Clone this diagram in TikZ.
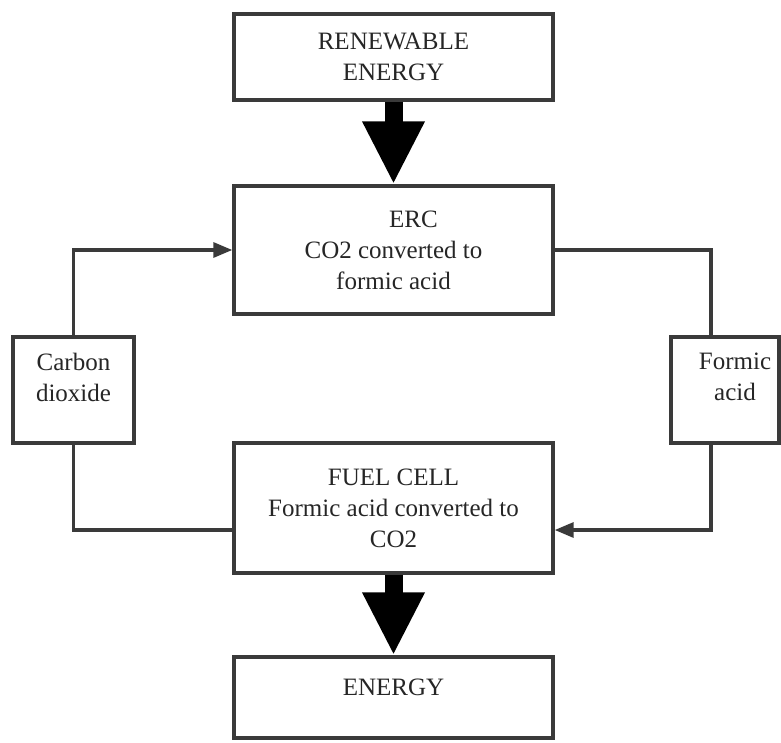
\documentclass[tikz,border=0pt]{standalone}
\usepackage{fontspec}
\setmainfont{Liberation Serif}
\usetikzlibrary{arrows.meta,calc}
\definecolor{ln}{HTML}{3A3A3A}
\definecolor{tx}{HTML}{262626}
\begin{document}
\begin{tikzpicture}[x=1pt,y=-1pt,
  box/.style={draw=ln,line width=3.4pt,fill=white,inner sep=0pt,align=center,
    text=tx,font=\fontsize{25}{31}\selectfont},
  wide/.style={box,minimum width=319pt},
  flow/.style={draw=ln,line width=3.2pt,-{Triangle[length=19pt,width=15pt]}},
  plain/.style={draw=ln,line width=3.2pt},
  big/.style={draw=black,line width=18pt,-{Triangle[length=63pt,width=58pt]}}]
\useasboundingbox (0,0) rectangle (781,743);
\node[wide,minimum height=86pt] (ren) at (393.5,57) {RENEWABLE\\ENERGY};
\node[wide,minimum height=128pt] (erc) at (393.5,250)
  {\hspace{1.6em}ERC\\CO2 converted to\\formic acid\hspace{1.2em}};
\node[box,minimum width=121pt,minimum height=106pt,text depth=26pt] (co2) at (73.5,390)
  {Carbon\\dioxide};
\node[box,minimum width=108pt,minimum height=106pt,text depth=26pt] (fa) at (725,390)
  {\hspace{0.8em}Formic\\\hspace{0.8em}acid};
\node[wide,minimum height=130pt] (fc) at (393.5,508)
  {FUEL CELL\\Formic acid converted to\\CO2};
\node[wide,minimum height=81pt,text depth=20pt] (en) at (393.5,697.5) {ENERGY};
\coordinate (co2turn) at ($(co2.south)+(0,140)$);
\coordinate (faTop) at ($(fa.north)+(-14,0)$);
\coordinate (faBot) at ($(fa.south)+(-14,0)$);
\coordinate (fcIn) at ($(fc.east)+(0,22)$);
\coordinate (fcOut) at ($(fc.west)+(0,22)$);
\draw[flow] (co2.north) |- (erc.west);
\draw[plain] (co2.south) |- (fcOut);
\draw[plain] (erc.east) -| (faTop);
\draw[flow] (faBot) |- (fcIn);
\draw[big] (ren.south) -- (erc.north);
\draw[big] (fc.south) -- (en.north);
\end{tikzpicture}
\end{document}
